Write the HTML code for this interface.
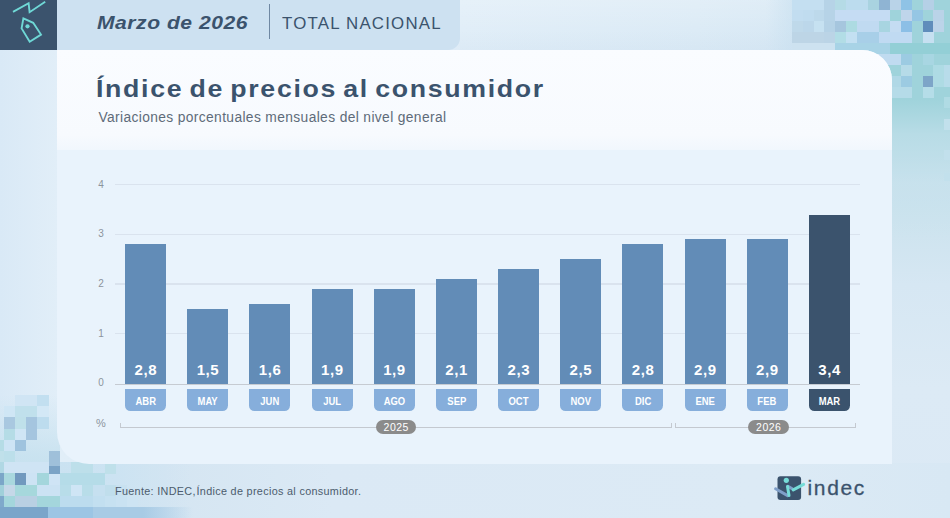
<!DOCTYPE html>
<html><head><meta charset="utf-8">
<style>
*{margin:0;padding:0;box-sizing:border-box}
html,body{width:950px;height:518px;overflow:hidden}
body{font-family:"Liberation Sans",sans-serif;position:relative;background:#dbe9f5}
.abs{position:absolute}
#bg{left:0;top:0;width:950px;height:518px;background:linear-gradient(90deg,#d9e9f6 0%,#e1eef8 6%,#dfecf7 45%,#dbe9f4 75%,#d6e7f2 100%)}
#bgr{left:892px;top:0;width:58px;height:518px;background:linear-gradient(180deg,#b9dbe4 0%,#c3dfe9 30%,#d6e7f3 55%,#dceaf5 75%,#dbe9f5 100%)}
#bgtop{left:460px;top:0;width:432px;height:49.5px;background:linear-gradient(180deg,rgba(255,255,255,.18) 0%,rgba(255,255,255,0) 60%,rgba(120,160,200,.05) 100%),linear-gradient(90deg,#e1eef8 0%,#dcebf6 55%,#d4e6f3 100%)}
#bgbot{left:0;top:463px;width:950px;height:55px;background:linear-gradient(90deg,#cfe2ef 0%,#dbe9f5 35%,#dceaf5 80%,#d8e8f4 100%)}
#dark{left:0;top:0;width:57px;height:49.5px;background:#3b536d}
#band{left:57px;top:0;width:403px;height:49.5px;background:#cde1f1;border-bottom-right-radius:12px}
#card{left:57px;top:49.5px;width:835px;height:414.4px;background:#e9f3fc;border-top-right-radius:30px;border-bottom-left-radius:32px;overflow:hidden}
#cardtop{left:0;top:0;width:835px;height:100.4px;background:linear-gradient(180deg,#fafcff 0%,#f7fafe 85%,#f1f7fd 100%)}
#h1{left:96.6px;top:12px;font-size:19.2px;font-weight:bold;font-style:italic;color:#3b536d;white-space:nowrap;letter-spacing:0.47px;transform:scaleX(1.1);transform-origin:0 0}
#sep{left:268.5px;top:4px;width:1.5px;height:35px;background:#6f88a3}
#h2{left:282.2px;top:15.1px;font-size:15.6px;color:#3b536d;white-space:nowrap;letter-spacing:1.12px;transform:scaleX(1.08);transform-origin:0 0}
#title{left:96.2px;top:75.3px;font-size:24.3px;font-weight:bold;color:#3b536d;white-space:nowrap;letter-spacing:1.52px;word-spacing:-2.6px;transform:scaleX(1.1);transform-origin:0 0}
#sub{left:98.4px;top:110px;font-size:13.8px;color:#5e6b79;white-space:nowrap;letter-spacing:0.37px}
.grid{left:114.5px;width:745.5px;height:1.3px;background:#d8e1ec}
.yl{width:12px;text-align:center;left:95px;font-size:10px;color:#8c949c;line-height:12px}
.bar{width:41px;background:#628cb7}
.val{width:41px;text-align:center;color:#fff;font-weight:bold;font-size:15px;line-height:16px;top:362.2px;letter-spacing:0.6px;text-indent:0.6px}
.mon{width:41px;height:22px;top:389.2px;background:#86aedb;border-radius:0 0 5.5px 5.5px;color:#fff;text-align:center;font-size:11.8px;font-weight:bold;line-height:24.4px;}
.mon span{display:inline-block;transform:scaleX(.8)}
.badge{height:14px;top:420.2px;border-radius:7px;background:#8b8b8b;color:#fff;font-size:10.5px;line-height:14.4px;text-align:center;letter-spacing:0.5px;text-indent:0.5px}
#foot{left:114.7px;top:486px;font-size:10.4px;color:#4c5c6d;white-space:nowrap;letter-spacing:0.31px;transform:scaleX(1.04);transform-origin:0 0}
#mosaic i{position:absolute;display:block}
#indec{-webkit-text-stroke:0.3px #3b536d;left:807.5px;top:476.3px;font-size:21px;line-height:24px;color:#3b536d;letter-spacing:1.65px;white-space:nowrap}
</style></head><body>
<div id="bg" class="abs"></div>
<div id="bgr" class="abs"></div>
<div id="bgtop" class="abs"></div>
<div id="bgbot" class="abs"></div>
<div id="mosaic">
<i style="left:766px;top:0;width:27px;height:49.5px;background:linear-gradient(90deg,rgba(200,224,240,0) 0%,rgba(200,224,240,.6) 100%)"></i>
<i style="left:792.2px;top:0;width:43.3px;height:43px;background:#bfd9ec"></i>
<i style="left:792.2px;top:42.9px;width:43.3px;height:6.7px;background:#cde2f0"></i>
<i style="left:878.9px;top:0;width:72px;height:100px;background:#9fd3db"></i>
<i style="left:892px;top:99px;width:58px;height:140px;background:linear-gradient(180deg,#9fd3db 0%,#b8dce6 25%,rgba(200,226,238,.6) 60%,rgba(214,231,243,0) 100%)"></i>
<i style="left:835.3px;top:42.9px;width:55.0px;height:11.0px;background:#a8d3e6"></i>
<i style="left:889.8px;top:42.9px;width:61.0px;height:11.0px;background:#93cfd6"></i>
<i style="left:791.7px;top:-0.7px;width:11.1px;height:11.1px;background:#c4dff1"></i>
<i style="left:802.6px;top:-0.7px;width:11.1px;height:11.1px;background:#c4dff1"></i>
<i style="left:813.5px;top:-0.7px;width:11.1px;height:11.1px;background:#c4dff1"></i>
<i style="left:824.4px;top:-0.7px;width:11.1px;height:11.1px;background:#b6d3e7"></i>
<i style="left:835.3px;top:-0.7px;width:11.1px;height:11.1px;background:#b5dbe6"></i>
<i style="left:846.2px;top:-0.7px;width:11.1px;height:11.1px;background:#bcdcee"></i>
<i style="left:857.1px;top:-0.7px;width:11.1px;height:11.1px;background:#bcdcee"></i>
<i style="left:868.0px;top:-0.7px;width:11.1px;height:11.1px;background:#a9d3e0"></i>
<i style="left:878.9px;top:-0.7px;width:11.1px;height:11.1px;background:#8fb4d3"></i>
<i style="left:889.8px;top:-0.7px;width:11.1px;height:11.1px;background:#b9d3e8"></i>
<i style="left:900.7px;top:-0.7px;width:11.1px;height:11.1px;background:#8fc3e6"></i>
<i style="left:922.5px;top:-0.7px;width:11.1px;height:11.1px;background:#b5d0e6"></i>
<i style="left:791.7px;top:10.2px;width:11.1px;height:11.1px;background:#c2ddf0"></i>
<i style="left:802.6px;top:10.2px;width:11.1px;height:11.1px;background:#c0dcef"></i>
<i style="left:813.5px;top:10.2px;width:11.1px;height:11.1px;background:#bdd9eb"></i>
<i style="left:824.4px;top:10.2px;width:11.1px;height:11.1px;background:#b6d3e7"></i>
<i style="left:835.3px;top:10.2px;width:11.1px;height:11.1px;background:#c5dcf3"></i>
<i style="left:846.2px;top:10.2px;width:11.1px;height:11.1px;background:#c5dcf3"></i>
<i style="left:857.1px;top:10.2px;width:11.1px;height:11.1px;background:#c5dcf3"></i>
<i style="left:868.0px;top:10.2px;width:11.1px;height:11.1px;background:#c5dcf3"></i>
<i style="left:878.9px;top:10.2px;width:11.1px;height:11.1px;background:#c5dcf3"></i>
<i style="left:900.7px;top:10.2px;width:11.1px;height:11.1px;background:#bfd5ea"></i>
<i style="left:911.6px;top:10.2px;width:11.1px;height:11.1px;background:#95c6e4"></i>
<i style="left:933.4px;top:10.2px;width:11.1px;height:11.1px;background:#bad3e8"></i>
<i style="left:791.7px;top:21.1px;width:11.1px;height:11.1px;background:#bfd9ea"></i>
<i style="left:802.6px;top:21.1px;width:11.1px;height:11.1px;background:#bcd7ea"></i>
<i style="left:813.5px;top:21.1px;width:11.1px;height:11.1px;background:#c6e1f1"></i>
<i style="left:824.4px;top:21.1px;width:11.1px;height:11.1px;background:#b5d2e6"></i>
<i style="left:835.3px;top:21.1px;width:11.1px;height:11.1px;background:#a6c6de"></i>
<i style="left:846.2px;top:21.1px;width:11.1px;height:11.1px;background:#addbe2"></i>
<i style="left:857.1px;top:21.1px;width:11.1px;height:11.1px;background:#c0daf1"></i>
<i style="left:868.0px;top:21.1px;width:11.1px;height:11.1px;background:#c0daf1"></i>
<i style="left:878.9px;top:21.1px;width:11.1px;height:11.1px;background:#a8d5e1"></i>
<i style="left:889.8px;top:21.1px;width:11.1px;height:11.1px;background:#c4dcf2"></i>
<i style="left:900.7px;top:21.1px;width:11.1px;height:11.1px;background:#8cbfe6"></i>
<i style="left:922.5px;top:21.1px;width:11.1px;height:11.1px;background:#5f8dbb"></i>
<i style="left:933.4px;top:21.1px;width:11.1px;height:11.1px;background:#bcd4e9"></i>
<i style="left:791.7px;top:32.0px;width:11.1px;height:11.1px;background:#bdd5e6"></i>
<i style="left:802.6px;top:32.0px;width:11.1px;height:11.1px;background:#bdd5e6"></i>
<i style="left:813.5px;top:32.0px;width:11.1px;height:11.1px;background:#bdd5e6"></i>
<i style="left:824.4px;top:32.0px;width:11.1px;height:11.1px;background:#bbd4e6"></i>
<i style="left:835.3px;top:32.0px;width:11.1px;height:11.1px;background:#b2dde6"></i>
<i style="left:846.2px;top:32.0px;width:11.1px;height:11.1px;background:#c3e0f2"></i>
<i style="left:857.1px;top:32.0px;width:11.1px;height:11.1px;background:#a8cfe8"></i>
<i style="left:868.0px;top:32.0px;width:11.1px;height:11.1px;background:#a8cfe8"></i>
<i style="left:878.9px;top:32.0px;width:11.1px;height:11.1px;background:#c0daf2"></i>
<i style="left:889.8px;top:32.0px;width:11.1px;height:11.1px;background:#c0daf2"></i>
<i style="left:900.7px;top:32.0px;width:11.1px;height:11.1px;background:#c0daf2"></i>
<i style="left:922.5px;top:32.0px;width:11.1px;height:11.1px;background:#c6e0f1"></i>
<i style="left:878.9px;top:53.8px;width:11.1px;height:11.1px;background:#c0dbf0"></i>
<i style="left:889.8px;top:53.8px;width:11.1px;height:11.1px;background:#c0dbf0"></i>
<i style="left:900.7px;top:53.8px;width:11.1px;height:11.1px;background:#9ccbe2"></i>
<i style="left:922.5px;top:53.8px;width:11.1px;height:11.1px;background:#a8d6e2"></i>
<i style="left:900.7px;top:64.7px;width:11.1px;height:11.1px;background:#b6dbe8"></i>
<i style="left:933.4px;top:64.7px;width:11.1px;height:11.1px;background:#aedbe4"></i>
<i style="left:944.3px;top:64.7px;width:11.1px;height:11.1px;background:#b8dcea"></i>
<i style="left:889.8px;top:75.6px;width:11.1px;height:11.1px;background:#b0d8e6"></i>
<i style="left:900.7px;top:75.6px;width:11.1px;height:11.1px;background:#9ccbe2"></i>
<i style="left:922.5px;top:75.6px;width:11.1px;height:11.1px;background:#7da5c8"></i>
<i style="left:933.4px;top:75.6px;width:11.1px;height:11.1px;background:#aedbe4"></i>
<i style="left:944.3px;top:75.6px;width:11.1px;height:11.1px;background:#b8dcea"></i>
<i style="left:889.8px;top:86.5px;width:11.1px;height:11.1px;background:#b5dbe8"></i>
<i style="left:900.7px;top:86.5px;width:11.1px;height:11.1px;background:#b5dbe8"></i>
<i style="left:922.5px;top:86.5px;width:11.1px;height:11.1px;background:#b5dde8"></i>
<i style="left:944.3px;top:97.4px;width:11.1px;height:11.1px;background:#b0dbe4"></i>
<i style="left:944.3px;top:119.0px;width:6.0px;height:11.0px;background:#c2e0ec"></i>
<i style="left:944.3px;top:150.0px;width:6.0px;height:10.0px;background:#c2e0ec"></i>
<i style="left:944.3px;top:173.0px;width:6.0px;height:8.0px;background:#c2e0ec"></i>
<i style="left:0;top:395px;width:60px;height:123px;background:linear-gradient(180deg,rgba(200,226,240,0) 0%,rgba(196,224,238,.8) 50%,#c3dfee 100%)"></i>
<i style="left:0;top:462px;width:190px;height:56px;background:linear-gradient(90deg,#c8e1f0 0%,#cce3f2 60%,rgba(214,231,243,0) 100%)"></i>
<i style="left:14.9px;top:395.0px;width:11.4px;height:11.4px;background:#d0e5f4"></i>
<i style="left:26.1px;top:395.0px;width:11.4px;height:11.4px;background:#d0e5f4"></i>
<i style="left:37.3px;top:395.0px;width:11.4px;height:11.4px;background:#c2dff0"></i>
<i style="left:3.7px;top:406.2px;width:11.4px;height:11.4px;background:#cfe6f5"></i>
<i style="left:14.9px;top:406.2px;width:11.4px;height:11.4px;background:#c0e0ec"></i>
<i style="left:26.1px;top:406.2px;width:11.4px;height:11.4px;background:#c0e0ec"></i>
<i style="left:37.3px;top:406.2px;width:11.4px;height:11.4px;background:#d3e8f6"></i>
<i style="left:3.7px;top:417.4px;width:11.4px;height:11.4px;background:#a9c8e0"></i>
<i style="left:14.9px;top:417.4px;width:11.4px;height:11.4px;background:#bfe0ea"></i>
<i style="left:26.1px;top:417.4px;width:11.4px;height:11.4px;background:#a5c5df"></i>
<i style="left:37.3px;top:417.4px;width:11.4px;height:11.4px;background:#bddcee"></i>
<i style="left:3.7px;top:428.6px;width:11.4px;height:11.4px;background:#b5dce6"></i>
<i style="left:14.9px;top:428.6px;width:11.4px;height:11.4px;background:#cfe5f5"></i>
<i style="left:26.1px;top:428.6px;width:11.4px;height:11.4px;background:#a5c5df"></i>
<i style="left:-7.5px;top:439.8px;width:11.4px;height:11.4px;background:#b5dce6"></i>
<i style="left:3.7px;top:439.8px;width:11.4px;height:11.4px;background:#cde4f5"></i>
<i style="left:14.9px;top:439.8px;width:11.4px;height:11.4px;background:#9fc3de"></i>
<i style="left:-7.5px;top:451.0px;width:11.4px;height:11.4px;background:#c0e0ea"></i>
<i style="left:3.7px;top:451.0px;width:11.4px;height:11.4px;background:#bcdfea"></i>
<i style="left:-7.5px;top:462.2px;width:11.4px;height:11.4px;background:#b0d8e4"></i>
<i style="left:3.7px;top:462.2px;width:11.4px;height:11.4px;background:#cfe4f4"></i>
<i style="left:14.9px;top:462.2px;width:11.4px;height:11.4px;background:#cfe4f4"></i>
<i style="left:26.1px;top:462.2px;width:11.4px;height:11.4px;background:#cfe4f4"></i>
<i style="left:37.3px;top:462.2px;width:11.4px;height:11.4px;background:#cfe4f4"></i>
<i style="left:70.9px;top:462.2px;width:11.4px;height:11.4px;background:#bddfea"></i>
<i style="left:82.1px;top:462.2px;width:11.4px;height:11.4px;background:#bddfea"></i>
<i style="left:104.5px;top:462.2px;width:11.4px;height:11.4px;background:#bfe0ea"></i>
<i style="left:-7.5px;top:473.4px;width:11.4px;height:11.4px;background:#7ba6c8"></i>
<i style="left:3.7px;top:473.4px;width:11.4px;height:11.4px;background:#a9d8de"></i>
<i style="left:14.9px;top:473.4px;width:11.4px;height:11.4px;background:#7199be"></i>
<i style="left:26.1px;top:473.4px;width:11.4px;height:11.4px;background:#cde3f4"></i>
<i style="left:37.3px;top:473.4px;width:11.4px;height:11.4px;background:#a4d6dc"></i>
<i style="left:48.5px;top:473.4px;width:11.4px;height:11.4px;background:#cfe4f5"></i>
<i style="left:59.7px;top:473.4px;width:11.4px;height:11.4px;background:#b5dce8"></i>
<i style="left:70.9px;top:473.4px;width:11.4px;height:11.4px;background:#b5dce8"></i>
<i style="left:82.1px;top:473.4px;width:11.4px;height:11.4px;background:#b5dce8"></i>
<i style="left:93.3px;top:473.4px;width:11.4px;height:11.4px;background:#b5dce8"></i>
<i style="left:-7.5px;top:484.6px;width:11.4px;height:11.4px;background:#a0d0da"></i>
<i style="left:3.7px;top:484.6px;width:11.4px;height:11.4px;background:#c5d8e8"></i>
<i style="left:14.9px;top:484.6px;width:11.4px;height:11.4px;background:#a6d8dc"></i>
<i style="left:26.1px;top:484.6px;width:11.4px;height:11.4px;background:#a6d8dc"></i>
<i style="left:37.3px;top:484.6px;width:11.4px;height:11.4px;background:#cbe2f3"></i>
<i style="left:48.5px;top:484.6px;width:11.4px;height:11.4px;background:#cbe2f3"></i>
<i style="left:59.7px;top:484.6px;width:11.4px;height:11.4px;background:#b8dde9"></i>
<i style="left:70.9px;top:484.6px;width:11.4px;height:11.4px;background:#cfe5f5"></i>
<i style="left:82.1px;top:484.6px;width:11.4px;height:11.4px;background:#b8dde9"></i>
<i style="left:93.3px;top:484.6px;width:11.4px;height:11.4px;background:#c6e0f0"></i>
<i style="left:104.5px;top:484.6px;width:11.4px;height:11.4px;background:#c0deec"></i>
<i style="left:115.7px;top:484.6px;width:11.4px;height:11.4px;background:#c8e1f0"></i>
<i style="left:-7.5px;top:495.8px;width:11.4px;height:11.4px;background:#7fa9cb"></i>
<i style="left:3.7px;top:495.8px;width:11.4px;height:11.4px;background:#a4d6dc"></i>
<i style="left:14.9px;top:495.8px;width:11.4px;height:11.4px;background:#b9d0e3"></i>
<i style="left:26.1px;top:495.8px;width:11.4px;height:11.4px;background:#b9d0e3"></i>
<i style="left:37.3px;top:495.8px;width:11.4px;height:11.4px;background:#a4d6dc"></i>
<i style="left:48.5px;top:495.8px;width:11.4px;height:11.4px;background:#a4d6dc"></i>
<i style="left:59.7px;top:495.8px;width:11.4px;height:11.4px;background:#bcdcee"></i>
<i style="left:70.9px;top:495.8px;width:11.4px;height:11.4px;background:#bcdcee"></i>
<i style="left:82.1px;top:495.8px;width:11.4px;height:11.4px;background:#bcdcee"></i>
<i style="left:93.3px;top:495.8px;width:11.4px;height:11.4px;background:#c2dff0"></i>
<i style="left:104.5px;top:495.8px;width:11.4px;height:11.4px;background:#c6e1f1"></i>
<i style="left:115.7px;top:495.8px;width:11.4px;height:11.4px;background:#c9e2f2"></i>
<i style="left:126.9px;top:495.8px;width:11.4px;height:11.4px;background:#cde4f3"></i>
<i style="left:48.5px;top:451.0px;width:11.2px;height:14.6px;background:#9fc0da"></i>
<i style="left:48.5px;top:465.5px;width:11.2px;height:8.2px;background:#7ba3c6"></i>
<i style="left:0;top:507.4px;width:49px;height:11px;background:#7aa5ca"></i>
<i style="left:48.4px;top:507.4px;width:46px;height:11px;background:#9cc5e4"></i>
<i style="left:93.4px;top:507.4px;width:100px;height:11px;background:linear-gradient(90deg,#a8cbe5 0%,#a8cbe5 50%,rgba(168,203,229,0) 100%)"></i>
</div><!--endmosaic-->
<div id="dark" class="abs"></div>
<div id="band" class="abs"></div>
<div id="card" class="abs"><div id="cardtop" class="abs"></div></div>
<svg id="icon" class="abs" style="left:0;top:0" width="57" height="50" viewBox="0 0 57 50" fill="none" stroke="#6fd8d6" stroke-width="1.9" stroke-linecap="butt" stroke-linejoin="miter">
<path d="M13 11.8 L28.6 3.2 L29.6 12.2 L45.2 1.8"/>
<path d="M23.4 18.4 L33.2 22.8 L41 34.6 L29.7 41.8 L21.6 28.4 Z"/>
<circle cx="27.5" cy="26.3" r="2.1" fill="#6fd8d6" stroke="none"/>
</svg>
<div id="h1" class="abs">Marzo de 2026</div>
<div id="sep" class="abs"></div>
<div id="h2" class="abs">TOTAL NACIONAL</div>
<div id="title" class="abs">Índice de precios al consumidor</div>
<div id="sub" class="abs">Variaciones porcentuales mensuales del nivel general</div>
<div id="chart">
<div class="abs grid" style="top:383.60px;height:1.1px;background:#c6cbd2"></div>
<div class="abs yl" style="top:377.40px">0</div>
<div class="abs grid" style="top:333.05px;background:#dae3ee"></div>
<div class="abs yl" style="top:327.70px">1</div>
<div class="abs grid" style="top:283.35px;background:#dae3ee"></div>
<div class="abs yl" style="top:278.00px">2</div>
<div class="abs grid" style="top:233.65px;background:#dae3ee"></div>
<div class="abs yl" style="top:228.30px">3</div>
<div class="abs grid" style="top:183.95px;background:#dae3ee"></div>
<div class="abs yl" style="top:178.60px">4</div>
<div class="abs bar" style="left:125.1px;top:244.3px;height:139.7px;background:#628cb7"></div>
<div class="abs val" style="left:125.1px">2,8</div>
<div class="abs mon" style="left:125.1px;background:#86aedb"><span>ABR</span></div>
<div class="abs bar" style="left:187.2px;top:308.9px;height:75.1px;background:#628cb7"></div>
<div class="abs val" style="left:187.2px">1,5</div>
<div class="abs mon" style="left:187.2px;background:#86aedb"><span>MAY</span></div>
<div class="abs bar" style="left:249.4px;top:304.0px;height:80.0px;background:#628cb7"></div>
<div class="abs val" style="left:249.4px">1,6</div>
<div class="abs mon" style="left:249.4px;background:#86aedb"><span>JUN</span></div>
<div class="abs bar" style="left:311.5px;top:289.1px;height:94.9px;background:#628cb7"></div>
<div class="abs val" style="left:311.5px">1,9</div>
<div class="abs mon" style="left:311.5px;background:#86aedb"><span>JUL</span></div>
<div class="abs bar" style="left:373.7px;top:289.1px;height:94.9px;background:#628cb7"></div>
<div class="abs val" style="left:373.7px">1,9</div>
<div class="abs mon" style="left:373.7px;background:#86aedb"><span>AGO</span></div>
<div class="abs bar" style="left:435.9px;top:279.1px;height:104.9px;background:#628cb7"></div>
<div class="abs val" style="left:435.9px">2,1</div>
<div class="abs mon" style="left:435.9px;background:#86aedb"><span>SEP</span></div>
<div class="abs bar" style="left:498.0px;top:269.2px;height:114.8px;background:#628cb7"></div>
<div class="abs val" style="left:498.0px">2,3</div>
<div class="abs mon" style="left:498.0px;background:#86aedb"><span>OCT</span></div>
<div class="abs bar" style="left:560.1px;top:259.2px;height:124.8px;background:#628cb7"></div>
<div class="abs val" style="left:560.1px">2,5</div>
<div class="abs mon" style="left:560.1px;background:#86aedb"><span>NOV</span></div>
<div class="abs bar" style="left:622.3px;top:244.3px;height:139.7px;background:#628cb7"></div>
<div class="abs val" style="left:622.3px">2,8</div>
<div class="abs mon" style="left:622.3px;background:#86aedb"><span>DIC</span></div>
<div class="abs bar" style="left:684.5px;top:239.4px;height:144.6px;background:#628cb7"></div>
<div class="abs val" style="left:684.5px">2,9</div>
<div class="abs mon" style="left:684.5px;background:#86aedb"><span>ENE</span></div>
<div class="abs bar" style="left:746.6px;top:239.4px;height:144.6px;background:#628cb7"></div>
<div class="abs val" style="left:746.6px">2,9</div>
<div class="abs mon" style="left:746.6px;background:#86aedb"><span>FEB</span></div>
<div class="abs bar" style="left:808.8px;top:214.5px;height:169.5px;background:#3b536d"></div>
<div class="abs val" style="left:808.8px">3,4</div>
<div class="abs mon" style="left:808.8px;background:#3b536d"><span>MAR</span></div>
<div class="abs yl" style="top:416.7px;left:94px;width:14px;font-size:11px">%</div>
<div class="abs" style="left:119.5px;top:423px;width:552px;height:4.7px;border:1.2px solid #c4c9d0;border-top:none"></div>
<div class="abs" style="left:675px;top:423px;width:180.7px;height:4.7px;border:1.2px solid #c4c9d0;border-top:none"></div>
<div class="abs badge" style="left:376px;width:40px">2025</div>
<div class="abs badge" style="left:748px;width:41px">2026</div>
</div><!--endchart-->
<div id="foot" class="abs">Fuente: INDEC,<span style="margin-left:-2.5px"> Índice de precios al consumidor.</span></div>
<svg id="logo" class="abs" style="left:770px;top:470px" width="40" height="36" viewBox="770 470 40 36" fill="none">
<rect x="777.5" y="476.3" width="23.6" height="23.7" rx="3" fill="#3b536d"/>
<circle cx="786.3" cy="480.3" r="2.6" fill="#76dcd8"/>
<path d="M775.6 488.8 L787.6 495.6" stroke="#7f9fc8" stroke-width="3" stroke-linecap="round"/>
<path d="M788 486.4 L792.2 488.8" stroke="#7f9fc8" stroke-width="3" stroke-linecap="round"/>
<path d="M787.5 486.6 L789 495.6" stroke="#76dcd8" stroke-width="3" stroke-linecap="round"/>
<path d="M793.2 489.9 L803.6 484.4" stroke="#76dcd8" stroke-width="3.1" stroke-linecap="round"/>
</svg>
<div id="indec" class="abs">indec</div>
</body></html>
